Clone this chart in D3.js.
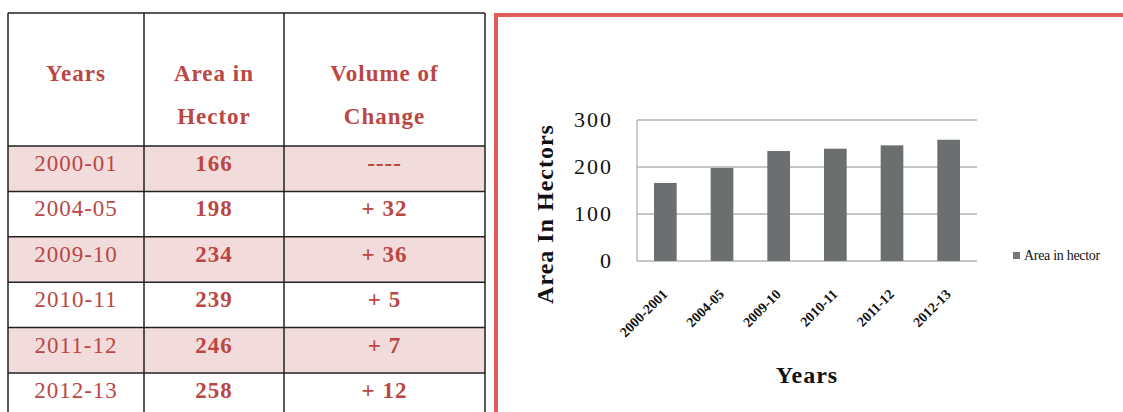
<!DOCTYPE html>
<html>
<head>
<meta charset="utf-8">
<script src="https://cdn.jsdelivr.net/npm/d3@7"></script>
<style>
  html, body { margin: 0; padding: 0; background: #fff; }
  svg { display: block; }
</style>
</head>
<body>
<div id="chart"></div>
<script>
// Table data
const headers = [["Years"], ["Area in", "Hector"], ["Volume of", "Change"]];
const years = ["2000-01", "2004-05", "2009-10", "2010-11", "2011-12", "2012-13"];
const areas = [166, 198, 234, 239, 246, 258];
const changes = ["----", "+ 32", "+ 36", "+ 5", "+ 7", "+ 12"];

// Bar chart data
const chartYears = ["2000-2001", "2004-05", "2009-10", "2010-11", "2011-12", "2012-13"];
const yTicks = [0, 100, 200, 300];
const legendLabel = "Area in hector";

const W = 1123, H = 412;
const red = "#bb4744";
const serif = "'Liberation Serif', 'Times New Roman', serif";

const svg = d3.select("#chart").append("svg")
  .attr("width", W).attr("height", H)
  .attr("viewBox", [0, 0, W, H]);

// ---------- table ----------
const colEdges = [8, 144, 284, 485];
const tableTop = 13, headerBottom = 146, rowH = 45.4;

const rowY = d3.scaleBand()
  .domain(d3.range(years.length))
  .range([headerBottom, headerBottom + rowH * years.length]);

const table = svg.append("g");

// striped row fills
table.selectAll("rect.row")
  .data(years)
  .join("rect")
  .attr("class", "row")
  .attr("x", colEdges[0]).attr("width", colEdges[3] - colEdges[0])
  .attr("y", (d, i) => rowY(i)).attr("height", rowY.bandwidth())
  .attr("fill", (d, i) => i % 2 === 0 ? "#f2dbdb" : "#fff");

// header text
const colCenter = i => (colEdges[i] + colEdges[i + 1]) / 2;
headers.forEach((lines, c) => {
  lines.forEach((t, k) => {
    table.append("text")
      .attr("x", colCenter(c)).attr("y", 81 + k * 43)
      .attr("text-anchor", "middle")
      .attr("font-family", serif).attr("font-size", 23)
      .attr("font-weight", "bold").attr("letter-spacing", 1)
      .attr("fill", red).text(t);
  });
});

// body text
const cols = [
  { vals: years, bold: false },
  { vals: areas, bold: true },
  { vals: changes, bold: true }
];
cols.forEach((col, c) => {
  table.selectAll(null)
    .data(col.vals)
    .join("text")
    .attr("x", colCenter(c))
    .attr("y", (d, i) => rowY(i) + 25)
    .attr("text-anchor", "middle")
    .attr("font-family", serif).attr("font-size", 23)
    .attr("font-weight", col.bold ? "bold" : "normal")
    .attr("letter-spacing", 1)
    .attr("fill", red)
    .text(d => d);
});

// grid lines
const lineStroke = "#222";
const hLines = [tableTop, headerBottom].concat(d3.range(1, years.length).map(i => rowY(i)));
table.selectAll("line.h")
  .data(hLines)
  .join("line")
  .attr("x1", colEdges[0]).attr("x2", colEdges[3])
  .attr("y1", d => d).attr("y2", d => d)
  .attr("stroke", lineStroke).attr("stroke-width", 1.5);
table.selectAll("line.v")
  .data(colEdges)
  .join("line")
  .attr("x1", d => d).attr("x2", d => d)
  .attr("y1", tableTop).attr("y2", H + 5)
  .attr("stroke", lineStroke).attr("stroke-width", 1.5);

// ---------- chart box border ----------
svg.append("path")
  .attr("d", `M496,${H + 5} V15 H${W + 5}`)
  .attr("fill", "none")
  .attr("stroke", "#de5d5a")
  .attr("stroke-width", 4);

// ---------- bar chart ----------
const plot = { left: 637, right: 977, top: 120, bottom: 261 };

const x = d3.scaleBand()
  .domain(chartYears)
  .range([plot.left, plot.right])
  .paddingInner(0.6)
  .paddingOuter(0.3);

const y = d3.scaleLinear()
  .domain([0, 300])
  .range([plot.bottom, plot.top]);

const chart = svg.append("g");

// gridlines
chart.selectAll("line.grid")
  .data(yTicks)
  .join("line")
  .attr("x1", plot.left).attr("x2", plot.right)
  .attr("y1", d => y(d)).attr("y2", d => y(d))
  .attr("stroke", "#b3b3b3").attr("stroke-width", 1.3);

// left axis line
chart.append("line")
  .attr("x1", plot.left).attr("x2", plot.left)
  .attr("y1", y(300)).attr("y2", y(0))
  .attr("stroke", "#b3b3b3").attr("stroke-width", 1.3);

// bars
chart.selectAll("rect.bar")
  .data(areas)
  .join("rect")
  .attr("class", "bar")
  .attr("x", (d, i) => x(chartYears[i]))
  .attr("width", x.bandwidth())
  .attr("y", d => y(d))
  .attr("height", d => y(0) - y(d))
  .attr("fill", "#6c6f6f");

// y tick labels
chart.selectAll("text.ytick")
  .data(yTicks)
  .join("text")
  .attr("x", 613).attr("y", d => y(d))
  .attr("dy", "0.33em")
  .attr("text-anchor", "end")
  .attr("font-family", serif).attr("font-size", 22)
  .attr("letter-spacing", 2)
  .attr("fill", "#111")
  .text(d => d);

// x tick labels (rotated)
chart.selectAll("text.xtick")
  .data(chartYears)
  .join("text")
  .attr("transform", d => `translate(${x(d) + x.bandwidth() / 2 + 3},295) rotate(-45)`)
  .attr("text-anchor", "end")
  .attr("font-family", serif).attr("font-size", 14)
  .attr("font-weight", "bold")
  .attr("fill", "#111")
  .text(d => d);

// axis titles
chart.append("text")
  .attr("transform", `translate(553,${214}) rotate(-90)`)
  .attr("text-anchor", "middle")
  .attr("font-family", serif).attr("font-size", 24)
  .attr("font-weight", "bold").attr("letter-spacing", 1)
  .attr("fill", "#111")
  .text("Area In Hectors");

chart.append("text")
  .attr("x", (plot.left + plot.right) / 2).attr("y", 383)
  .attr("text-anchor", "middle")
  .attr("font-family", serif).attr("font-size", 24)
  .attr("font-weight", "bold").attr("letter-spacing", 1)
  .attr("fill", "#111")
  .text("Years");

// legend
const legend = chart.append("g").attr("transform", "translate(1013,252)");
legend.append("rect").attr("width", 7).attr("height", 7).attr("fill", "#777");
legend.append("text")
  .attr("x", 11).attr("y", 7.5)
  .attr("font-family", serif).attr("font-size", 14)
  .attr("letter-spacing", -0.3)
  .attr("fill", "#111")
  .text(legendLabel);
</script>
</body>
</html>
